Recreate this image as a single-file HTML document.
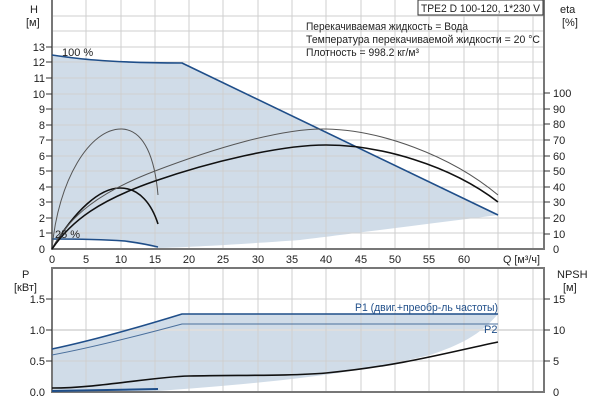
<!DOCTYPE html>
<html><head><meta charset="utf-8"><style>
html,body{margin:0;padding:0;background:#fff;}
svg{display:block;font-family:"Liberation Sans","DejaVu Sans",sans-serif;}
</style></head><body>
<svg width="600" height="400" viewBox="0 0 600 400" xmlns="http://www.w3.org/2000/svg">
<path d="M52,55 C66,57 80,59 95,60 C120,62 150,63 182,63 L498,215 C420,225 340,235 300,240 C230,245 190,247 158,248 C140,244 125,241 100,240 C80,239 60,239 52,239 Z" fill="#d0dce8"/>
<g stroke="#cfcfcf" stroke-width="1">
<line x1="52" y1="16" x2="544" y2="16"/><line x1="52" y1="31" x2="544" y2="31"/>
<line x1="52" y1="47" x2="544" y2="47"/><line x1="52" y1="62" x2="544" y2="62"/>
<line x1="52" y1="78" x2="544" y2="78"/><line x1="52" y1="94" x2="544" y2="94"/>
<line x1="52" y1="109" x2="544" y2="109"/><line x1="52" y1="125" x2="544" y2="125"/>
<line x1="52" y1="140" x2="544" y2="140"/><line x1="52" y1="156" x2="544" y2="156"/>
<line x1="52" y1="171" x2="544" y2="171"/><line x1="52" y1="187" x2="544" y2="187"/>
<line x1="52" y1="202" x2="544" y2="202"/><line x1="52" y1="218" x2="544" y2="218"/>
<line x1="52" y1="233" x2="544" y2="233"/>
<line x1="86" y1="0" x2="86" y2="249"/><line x1="121" y1="0" x2="121" y2="249"/>
<line x1="155" y1="0" x2="155" y2="249"/><line x1="189" y1="0" x2="189" y2="249"/>
<line x1="223" y1="0" x2="223" y2="249"/><line x1="258" y1="0" x2="258" y2="249"/>
<line x1="292" y1="0" x2="292" y2="249"/><line x1="326" y1="0" x2="326" y2="249"/>
<line x1="361" y1="0" x2="361" y2="249"/><line x1="395" y1="0" x2="395" y2="249"/>
<line x1="429" y1="0" x2="429" y2="249"/><line x1="464" y1="0" x2="464" y2="249"/>
<line x1="498" y1="0" x2="498" y2="249"/><line x1="533" y1="0" x2="533" y2="249"/>
</g>
<path d="M52,349 C90,341 130,330 182,314 L498,314 C480,335 460,345 430,355 C390,365 350,372 300,378 C250,384 200,388 158,391 L52,392 Z" fill="#d0dce8"/>
<g stroke="#cfcfcf" stroke-width="1">
<line x1="52" y1="299" x2="544" y2="299"/><line x1="52" y1="330" x2="544" y2="330" stroke-width="2" stroke="#dedede"/>
<line x1="52" y1="361" x2="544" y2="361"/>
<line x1="86" y1="268" x2="86" y2="392"/><line x1="121" y1="268" x2="121" y2="392"/>
<line x1="155" y1="268" x2="155" y2="392"/><line x1="189" y1="268" x2="189" y2="392"/>
<line x1="223" y1="268" x2="223" y2="392"/><line x1="258" y1="268" x2="258" y2="392"/>
<line x1="292" y1="268" x2="292" y2="392"/><line x1="326" y1="268" x2="326" y2="392"/>
<line x1="361" y1="268" x2="361" y2="392"/><line x1="395" y1="268" x2="395" y2="392"/>
<line x1="429" y1="268" x2="429" y2="392"/><line x1="464" y1="268" x2="464" y2="392"/>
<line x1="498" y1="268" x2="498" y2="392"/><line x1="533" y1="268" x2="533" y2="392"/>
</g>
<g stroke="#777" stroke-width="2" fill="none">
<line x1="52" y1="0" x2="52" y2="250"/><line x1="51" y1="249" x2="545" y2="249"/>
<line x1="544" y1="0" x2="544" y2="250"/>
<rect x="52" y="268" width="492" height="124"/>
</g>
<g stroke="#333" stroke-width="1">
<line x1="46" y1="47" x2="52" y2="47"/><line x1="46" y1="62" x2="52" y2="62"/><line x1="46" y1="78" x2="52" y2="78"/><line x1="46" y1="94" x2="52" y2="94"/><line x1="46" y1="109" x2="52" y2="109"/><line x1="46" y1="125" x2="52" y2="125"/><line x1="46" y1="140" x2="52" y2="140"/><line x1="46" y1="156" x2="52" y2="156"/><line x1="46" y1="171" x2="52" y2="171"/><line x1="46" y1="187" x2="52" y2="187"/><line x1="46" y1="202" x2="52" y2="202"/><line x1="46" y1="218" x2="52" y2="218"/><line x1="46" y1="233" x2="52" y2="233"/>
<line x1="544" y1="93" x2="550" y2="93"/><line x1="544" y1="109" x2="550" y2="109"/><line x1="544" y1="124" x2="550" y2="124"/><line x1="544" y1="140" x2="550" y2="140"/><line x1="544" y1="156" x2="550" y2="156"/><line x1="544" y1="171" x2="550" y2="171"/><line x1="544" y1="187" x2="550" y2="187"/><line x1="544" y1="202" x2="550" y2="202"/><line x1="544" y1="218" x2="550" y2="218"/><line x1="544" y1="234" x2="550" y2="234"/>
<line x1="46" y1="299" x2="52" y2="299"/><line x1="46" y1="330" x2="52" y2="330"/><line x1="46" y1="361" x2="52" y2="361"/>
<line x1="544" y1="299" x2="550" y2="299"/><line x1="544" y1="330" x2="550" y2="330"/><line x1="544" y1="361" x2="550" y2="361"/>
</g>
<g fill="none" stroke-linejoin="round">
<path d="M52,55 C66,57 80,59 95,60 C120,62 150,63 182,63 L498,215" stroke="#1f4e89" stroke-width="1.6"/>
<path d="M52,239 C80,239 110,240 125,241 C140,243 150,245 158,247" stroke="#1f4e89" stroke-width="1.6"/>
<path d="M52,249 C58,180 90,128 122,129 C145,130 155,160 158,195" stroke="#555" stroke-width="1"/>
<path d="M52,249 C75,210 100,188 120,188 C140,188 152,205 158,224" stroke="#111" stroke-width="1.6"/>
<path d="M52,249 C70,215 100,192 155,171 C210,150 280,128 326,129 C380,130 450,155 498,195" stroke="#555" stroke-width="1"/>
<path d="M52,249 C72,220 100,200 155,181 C210,162 280,145 326,145 C380,145 450,165 498,202" stroke="#111" stroke-width="1.6"/>
</g>
<g fill="none" stroke-linejoin="round">
<path d="M52,349 C90,341 130,330 182,314 L498,314" stroke="#1f4e89" stroke-width="1.6"/>
<path d="M52,355 C90,348 130,338 182,324 L498,324" stroke="#4a6f9c" stroke-width="1"/>
<path d="M52,388 C100,388 150,377 189,376 C240,375 290,376 326,373 C400,366 450,352 498,342" stroke="#111" stroke-width="1.6"/>
<line x1="52" y1="391" x2="158" y2="389" stroke="#1f4e89" stroke-width="2"/>
</g>
<g font-size="11" fill="#222">
<text x="30" y="13">H</text><text x="26" y="26">[м]</text>
<text x="560" y="13">eta</text><text x="562" y="26">[%]</text>
<g text-anchor="end">
<text x="45" y="51">13</text><text x="45" y="66">12</text><text x="45" y="82">11</text><text x="45" y="98">10</text><text x="45" y="113">9</text><text x="45" y="129">8</text><text x="45" y="144">7</text><text x="45" y="160">6</text><text x="45" y="175">5</text><text x="45" y="191">4</text><text x="45" y="206">3</text><text x="45" y="222">2</text><text x="45" y="237">1</text><text x="45" y="253">0</text>
<text x="45" y="303">1.5</text><text x="45" y="334">1.0</text><text x="45" y="365">0.5</text><text x="45" y="396">0.0</text>
</g>
<g>
<text x="553" y="97">100</text><text x="553" y="113">90</text><text x="553" y="128">80</text><text x="553" y="144">70</text><text x="553" y="160">60</text><text x="553" y="175">50</text><text x="553" y="191">40</text><text x="553" y="206">30</text><text x="553" y="222">20</text><text x="553" y="238">10</text><text x="553" y="253">0</text>
<text x="553" y="303">15</text><text x="553" y="334">10</text><text x="553" y="365">5</text><text x="553" y="396">0</text>
</g>
<g text-anchor="middle">
<text x="52" y="263">0</text><text x="86" y="263">5</text><text x="121" y="263">10</text><text x="155" y="263">15</text><text x="189" y="263">20</text><text x="223" y="263">25</text><text x="258" y="263">30</text><text x="292" y="263">35</text><text x="326" y="263">40</text><text x="361" y="263">45</text><text x="395" y="263">50</text><text x="429" y="263">55</text><text x="464" y="263">60</text>
</g>
<text x="503" y="263" textLength="37" lengthAdjust="spacingAndGlyphs">Q [м³/ч]</text>
<text x="22" y="278">P</text><text x="14" y="291">[кВт]</text>
<text x="557" y="278">NPSH</text><text x="563" y="291">[м]</text>
<text x="62" y="56">100 %</text>
<text x="55" y="238">25 %</text>
<text x="306" y="30" textLength="162" lengthAdjust="spacingAndGlyphs">Перекачиваемая жидкость = Вода</text>
<text x="306" y="43" textLength="234" lengthAdjust="spacingAndGlyphs">Температура перекачиваемой жидкости = 20 °C</text>
<text x="306" y="56" textLength="113" lengthAdjust="spacingAndGlyphs">Плотность = 998.2 кг/м³</text>
<text x="355" y="311" fill="#1f4e89" textLength="143" lengthAdjust="spacingAndGlyphs">P1 (двиг.+преобр-ль частоты)</text>
<text x="484" y="333" fill="#1f4e89">P2</text>
</g>
<rect x="418" y="0" width="125" height="15" fill="#fff" stroke="#333" stroke-width="1"/>
<text x="421" y="12" font-size="11" fill="#222" textLength="119" lengthAdjust="spacingAndGlyphs">TPE2 D 100-120, 1*230 V</text>
</svg>
</body></html>
